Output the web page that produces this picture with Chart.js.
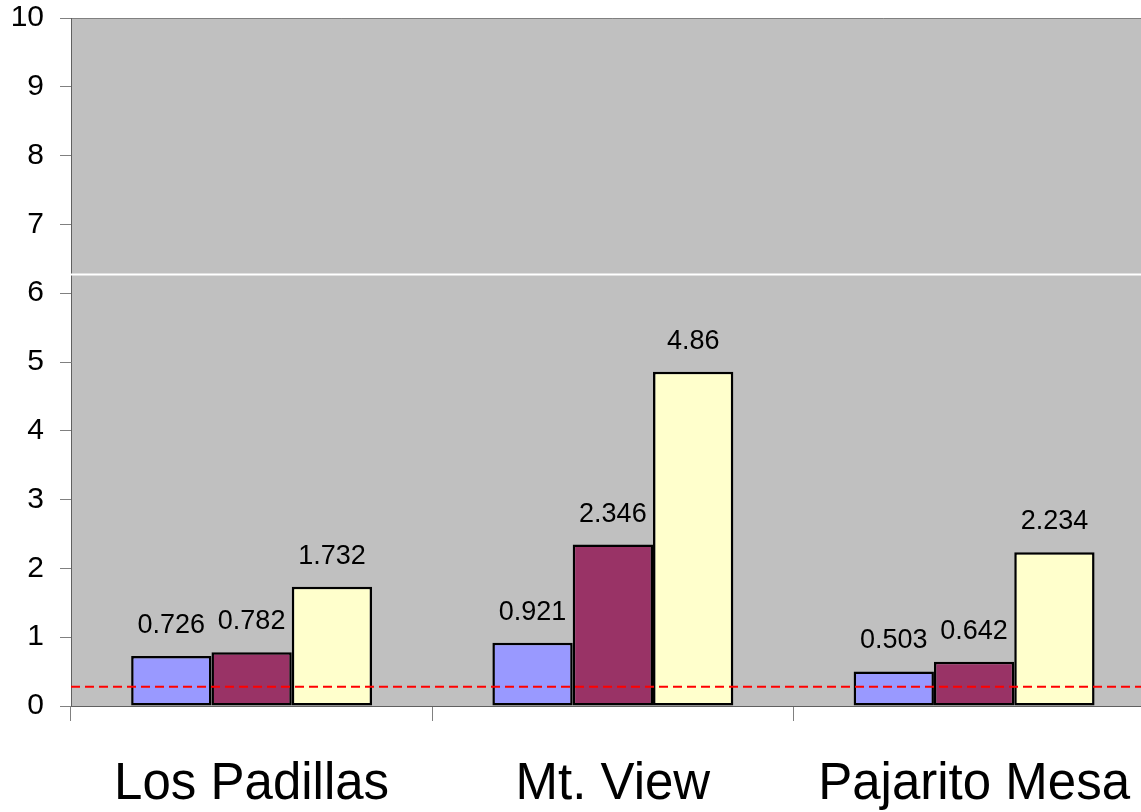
<!DOCTYPE html>
<html>
<head>
<meta charset="utf-8">
<script src="https://cdn.jsdelivr.net/npm/chart.js@4.4.1/dist/chart.umd.min.js"></script>
<style>
  html, body { margin: 0; padding: 0; background: #fff; overflow: hidden; }
  canvas { display: block; }
</style>
</head>
<body>
<canvas id="myChart" width="1163" height="812"></canvas>
<script>
const sites = ["Los Padillas", "Mt. View", "Pajarito Mesa"];
const series1 = [0.726, 0.921, 0.503];
const series2 = [0.782, 2.346, 0.642];
const series3 = [1.732, 4.86, 2.234];
const yTicks = [0, 1, 2, 3, 4, 5, 6, 7, 8, 9, 10];
const dashedLevel = 0.28; // red dashed reference line
const whiteLevel = 6.27;  // white reference line

const fontFamily = "'Liberation Sans', Arial, sans-serif";

// gray plot background + top border
const plotBg = {
  id: "plotBg",
  beforeDraw(chart) {
    const { ctx, chartArea: a } = chart;
    ctx.save();
    ctx.fillStyle = "#C0C0C0";
    ctx.fillRect(a.left, a.top, a.right - a.left, a.bottom - a.top);
    ctx.strokeStyle = "#808080";
    ctx.lineWidth = 1;
    ctx.beginPath();
    ctx.moveTo(a.left, a.top + 0.5);
    ctx.lineTo(a.right, a.top + 0.5);
    ctx.stroke();
    ctx.restore();
  }
};

// reference lines and value labels
const overlay = {
  id: "overlay",
  afterDatasetsDraw(chart) {
    const { ctx, chartArea: a, scales } = chart;
    ctx.save();
    // white line
    let y = scales.y.getPixelForValue(whiteLevel);
    ctx.strokeStyle = "#FFFFFF";
    ctx.lineWidth = 2;
    ctx.beginPath();
    ctx.moveTo(a.left, y);
    ctx.lineTo(a.right, y);
    ctx.stroke();

    // value labels
    ctx.fillStyle = "#000";
    ctx.font = "27px " + fontFamily;
    ctx.textAlign = "center";
    ctx.textBaseline = "alphabetic";
    chart.data.datasets.forEach((ds, i) => {
      chart.getDatasetMeta(i).data.forEach((bar, j) => {
        ctx.fillText(String(ds.data[j]), bar.x, bar.y - 23);
      });
    });

    // red dashed line
    y = scales.y.getPixelForValue(dashedLevel);
    ctx.strokeStyle = "#FF0000";
    ctx.lineWidth = 2;
    ctx.setLineDash([9, 5]);
    ctx.beginPath();
    ctx.moveTo(a.left, y);
    ctx.lineTo(a.right, y);
    ctx.stroke();
    ctx.restore();
  }
};

new Chart(document.getElementById("myChart"), {
  type: "bar",
  data: {
    labels: sites,
    datasets: [
      { label: "Series 1", data: series1, backgroundColor: "#9999FF" },
      { label: "Series 2", data: series2, backgroundColor: "#993366" },
      { label: "Series 3", data: series3, backgroundColor: "#FFFFCC" }
    ].map(d => Object.assign(d, {
      borderColor: "#000",
      borderWidth: 2.5,
      borderSkipped: false,
      barPercentage: 1.0,
      categoryPercentage: 0.667
    }))
  },
  options: {
    responsive: false,
    animation: false,
    layout: { padding: 0 },
    plugins: {
      legend: { display: false },
      tooltip: { enabled: false }
    },
    scales: {
      x: {
        grid: {
          offset: true,
          drawOnChartArea: false,
          drawTicks: true,
          tickLength: 15,
          color: "#808080"
        },
        border: { display: true, color: "#606060", width: 1 },
        ticks: {
          color: "#000",
          padding: 33,
          font: { family: fontFamily, size: 51 }
        },
        afterFit(scale) { scale.height = 106; }
      },
      y: {
        min: 0,
        max: 10,
        afterBuildTicks(scale) {
          scale.ticks = yTicks.map(v => ({ value: v }));
        },
        grid: {
          drawOnChartArea: false,
          drawTicks: true,
          tickLength: 11,
          color: "#808080"
        },
        border: { display: true, color: "#606060", width: 1 },
        ticks: {
          color: "#000",
          padding: 16,
          font: { family: fontFamily, size: 30 }
        },
        afterFit(scale) {
          scale.width = 71;
          scale.paddingTop = 18;
          scale.paddingBottom = 0;
        }
      }
    }
  },
  plugins: [plotBg, overlay]
});
</script>
</body>
</html>
